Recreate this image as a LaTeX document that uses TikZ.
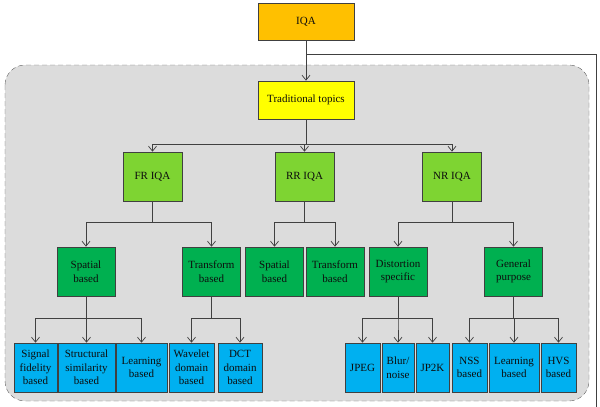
\documentclass[tikz,border=0pt]{standalone}
\usepackage{fontspec}
\setmainfont{Liberation Serif}
\usepackage{tikz}
\usetikzlibrary{arrows.meta,positioning,calc}
\definecolor{iqaorange}{HTML}{FFC000}
\definecolor{tryellow}{HTML}{FFFF00}
\definecolor{catgreen}{HTML}{7ED432}
\definecolor{subgreen}{HTML}{00B050}
\definecolor{leafblue}{HTML}{00B0F0}
\definecolor{regiongray}{HTML}{DCDCDC}
\definecolor{linegray}{HTML}{404040}
\tikzset{
  box/.style={draw=linegray, line width=0.6pt, text=black!95, font=\fontsize{11}{13.5}\selectfont, align=center, inner sep=1pt, minimum height=49pt},
  topbox/.style={box, minimum width=96pt, minimum height=37pt},
  rootbox/.style={topbox, fill=iqaorange},
  trbox/.style={topbox, fill=tryellow, minimum height=38pt},
  catbox/.style={box, fill=catgreen, minimum width=59pt},
  subbox/.style={box, fill=subgreen, minimum width=58pt},
  leafbox/.style={box, fill=leafblue},
  region/.style={draw=black!60, fill=regiongray, dash pattern=on 5pt off 3pt, rounded corners=20pt},
  line/.style={draw=linegray, line width=0.7pt},
  arr/.style={line, -{Straight Barb[length=5pt,width=8pt]}}
}

\begin{document}
\begin{tikzpicture}[x=1pt, y=-1pt]
  \useasboundingbox (0,0) rectangle (600,407);
  % shaded group
  \draw[region] (5,65) rectangle (589,401);
  % top
  \node[rootbox] (iqa) at (306,21.5) {IQA};
  \node[trbox] (trad) at (306,100) {Traditional topics};
  \coordinate (out) at (596,407);
  % level 2
  \node[catbox] (fr) at (152.5,176.5) {FR IQA};
  \node[catbox] (rr) at (304.5,176.5) {RR IQA};
  \node[catbox] (nr) at (452,176.5) {NR IQA};
  % level 3
  \node[subbox] (frsp) at (86,271.5) {Spatial\\based};
  \node[subbox] (frtr) at (211.5,271.5) {Transform\\based};
  \node[subbox] (rrsp) at (274.5,271.5) {Spatial\\based};
  \node[subbox] (rrtr) at (335,271.5) {Transform\\based};
  \node[subbox] (nrds) at (398,271.5) {Distortion\\specific};
  \node[subbox] (nrgp) at (513.5,271.5) {General\\purpose};
  % level 4
  \node[leafbox, minimum width=43pt] (sig) at (35.5,367.5) {Signal\\fidelity\\based};
  \node[leafbox, minimum width=57pt] (ssim) at (86.5,367.5) {Structural\\similarity\\based};
  \node[leafbox, minimum width=51pt] (lrn1) at (141.5,367.5) {Learning\\based};
  \node[leafbox, minimum width=45pt] (wav) at (191.5,367.5) {Wavelet\\domain\\based};
  \node[leafbox, minimum width=44pt] (dct) at (240,367.5) {DCT\\domain\\based};
  \node[leafbox, minimum width=35pt] (jpeg) at (362.5,367.5) {JPEG};
  \node[leafbox, minimum width=32pt] (blur) at (398,367.5) {Blur/\\noise};
  \node[leafbox, minimum width=33pt] (jp2k) at (432.5,367.5) {JP2K};
  \node[leafbox, minimum width=35pt] (nss) at (469.5,367.5) {NSS\\based};
  \node[leafbox, minimum width=50pt] (lrn2) at (514,367.5) {Learning\\based};
  \node[leafbox, minimum width=35pt] (hvs) at (558.5,367.5) {HVS\\based};
  % connectors
  \draw[arr] (iqa) -- (trad);
  \draw[line] (iqa.south) ++(0,14) -| (out);
  \foreach \c in {fr,rr,nr}
    \draw[arr] (trad.south) -- ++(0,25) -| (\c.north);
  \foreach \p/\c in {fr/frsp,fr/frtr,rr/rrsp,rr/rrtr,nr/nrds,nr/nrgp}
    \draw[arr] (\p.south) -- ++(0,21) -| (\c.north);
  \foreach \p/\c in {frsp/sig,frsp/ssim,frsp/lrn1,frtr/wav,frtr/dct,nrds/jpeg,nrds/blur,nrds/jp2k,nrgp/nss,nrgp/lrn2,nrgp/hvs}
    \draw[arr] (\p.south) -- ++(0,22) -| (\c.north);
\end{tikzpicture}
\end{document}
